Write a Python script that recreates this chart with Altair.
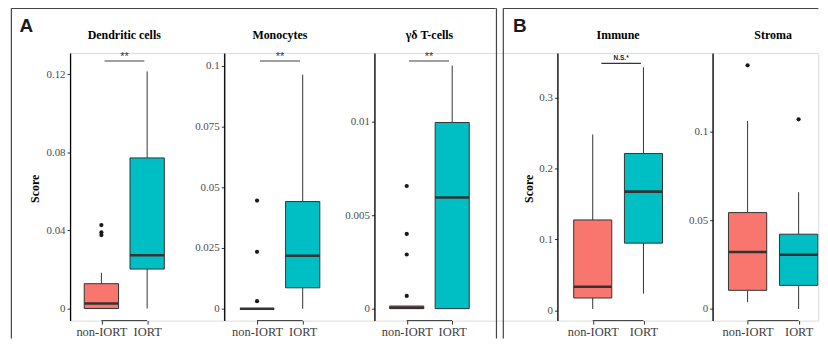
import altair as alt
import pandas as pd

# ---------------- data ----------------
panels = ["Dendritic cells", "Monocytes", "γδ T-cells", "Immune", "Stroma"]
groups = ["non-IORT", "IORT"]
fills = ["#F8766D", "#00BFC4"]

# per panel: [non-IORT, IORT]
whisker_lo = [[0.0, 0.0], [0.0, 0.0], [0.0, 0.0], [0.0018, 0.0234], [0.0038, 0.0]]
box_q1 = [[0.0, 0.0202], [0.0, 0.0086], [0.0, 0.0], [0.0173, 0.0947], [0.0105, 0.0133]]
box_median = [[0.0026, 0.0273], [0.0, 0.0218], [0.00005, 0.00595], [0.0332, 0.1674], [0.0321, 0.0306]]
box_q3 = [[0.0127, 0.0771], [0.0, 0.0441], [0.00014, 0.00997], [0.1274, 0.2212], [0.0544, 0.0422]]
whisker_hi = [[0.0183, 0.1214], [0.0, 0.0963], [0.00014, 0.01302], [0.248, 0.343], [0.1062, 0.0659]]

outlier_panel = [0, 0, 0, 1, 1, 1, 2, 2, 2, 2, 4, 4]
outlier_group = [0, 0, 0, 0, 0, 0, 0, 0, 0, 0, 0, 1]
outlier_value = [0.0427, 0.0390, 0.0376, 0.0031, 0.0234, 0.0445,
                 0.00068, 0.0029, 0.0040, 0.00657, 0.1376, 0.1071]

y_ticks = [[0, 0.04, 0.08, 0.12], [0, 0.025, 0.05, 0.075, 0.1], [0, 0.005, 0.01],
           [0, 0.1, 0.2, 0.3], [0, 0.05, 0.1]]
y_domains = [[-0.0062, 0.1308], [-0.0049, 0.1052], [-0.00064, 0.01369],
             [-0.0146, 0.3629], [-0.0066, 0.1445]]

sig_labels = ["**", "**", "**", "N.S.*"]
sig_x1 = [1.07, 1.06, 1.05, 1.17]
sig_x2 = [1.94, 1.94, 1.93, 1.95]

# ---------------- layout (page pixels) ----------------
axis_x = [69, 223.3, 374.3, 557.7, 713.3]
centers = [(100.5, 146.5), (256.3, 302.2), (406.8, 452.5), (593.2, 644.2), (748.5, 799.8)]
right_end = 819.5
view_top = 54
H = 269
BOX_HALF = 0.375

SERIF = "Liberation Serif, Times New Roman, Times, serif"
SANS = "Liberation Sans, Arial, Helvetica, sans-serif"


def make_panel(i):
    L = axis_x[i]
    R = axis_x[i + 1] if i < 4 else right_end
    W = R - L
    c1, c2 = centers[i]
    d = c2 - c1
    a = 1 - (c1 - L) / d
    b = a + W / d
    xscale = alt.Scale(domain=[a, b], nice=False, zero=False)
    yscale = alt.Scale(domain=y_domains[i], nice=False, zero=False)

    xaxis = alt.Axis(values=[1, 2],
                     labelExpr=f"datum.value == 1 ? '{groups[0]}' : '{groups[1]}'",
                     domain=False, grid=False, ticks=True, tickSize=3.5,
                     tickColor="#333333", tickWidth=1, labelFont=SERIF,
                     labelFontSize=12.5, labelColor="#3D3D3D", labelPadding=1,
                     labelOverlap=False, labelFlush=False, title=None)
    yargs = dict(values=y_ticks[i], labelExpr="'' + datum.value",
                 domainColor="black", domainWidth=1.3,
                 tickColor="#333333", tickSize=3, tickWidth=1, labelFont=SERIF,
                 labelFontSize=11, labelColor="#4D4D4D", labelPadding=2,
                 labelOverlap=False, labelFlush=False, grid=False)
    if i in (0, 3):
        yargs.update(title="Score", titleFont=SERIF, titleFontSize=12,
                     titleFontWeight="bold", titleColor="black",
                     titleX=(-36 if i == 0 else -29.5), titleY=136,
                     titleAngle=270, titleAlign="center", titleBaseline="middle")
    else:
        yargs.update(title=None)
    yaxis = alt.Axis(**yargs)

    X = lambda f: alt.X(f"{f}:Q", scale=xscale, axis=xaxis)
    X2 = lambda f: alt.X2(f"{f}:Q")
    Y = lambda f: alt.Y(f"{f}:Q", scale=yscale, axis=yaxis)
    Y2 = lambda f: alt.Y2(f"{f}:Q")

    box = pd.DataFrame({
        "group": groups,
        "pos": [1.0, 2.0],
        "lo": whisker_lo[i], "q1": box_q1[i], "med": box_median[i],
        "q3": box_q3[i], "hi": whisker_hi[i],
    })
    box["left"] = box["pos"] - BOX_HALF
    box["right"] = box["pos"] + BOX_HALF

    color = alt.Color("group:N", scale=alt.Scale(domain=groups, range=fills), legend=None)

    upper = alt.Chart(box).mark_rule(color="#333333", strokeWidth=1).encode(
        x=X("pos"), y=Y("q3"), y2=Y2("hi"))
    lower = alt.Chart(box).mark_rule(color="#333333", strokeWidth=1).encode(
        x=X("pos"), y=Y("lo"), y2=Y2("q1"))
    rect = alt.Chart(box).mark_rect(stroke="#333333", strokeWidth=1).encode(
        x=X("left"), x2=X2("right"), y=Y("q1"), y2=Y2("q3"), color=color)
    med = alt.Chart(box).mark_rule(color="#333333", strokeWidth=2.6).encode(
        x=X("left"), x2=X2("right"), y=Y("med"))

    out = pd.DataFrame({
        "pos": [float(g + 1) for p, g in zip(outlier_panel, outlier_group) if p == i],
        "v": [v for p, v in zip(outlier_panel, outlier_value) if p == i],
    })
    layers = [upper, lower, rect, med]
    if len(out):
        layers.append(alt.Chart(out).mark_circle(size=18, color="#1A1A1A", opacity=1).encode(
            x=X("pos"), y=Y("v")))

    # x-axis capped line between the two categories
    cap = pd.DataFrame({"x1": [1.0], "x2": [2.0]})
    layers.append(alt.Chart(cap).mark_rule(color="#333333", strokeWidth=1).encode(
        x=X("x1"), x2=X2("x2"), y=alt.value(H)))

    # panel title
    tdf = pd.DataFrame({"tx": [1.5], "label": [panels[i]]})
    layers.append(alt.Chart(tdf).mark_text(font=SERIF, fontSize=12, fontWeight="bold",
                                           color="black", baseline="middle").encode(
        x=X("tx"), y=alt.value(-18), text="label:N"))

    # significance bracket
    if i < 4:
        sdf = pd.DataFrame({"x1": [sig_x1[i]], "x2": [sig_x2[i]],
                            "xm": [(sig_x1[i] + sig_x2[i]) / 2], "label": [sig_labels[i]]})
        if i < 3:
            layers.append(alt.Chart(sdf).mark_rule(color="#7F7F7F", strokeWidth=1.4).encode(
                x=X("x1"), x2=X2("x2"), y=alt.value(8)))
            layers.append(alt.Chart(sdf).mark_text(font=SANS, fontSize=11, color="#333333",
                                                   baseline="alphabetic").encode(
                x=X("xm"), y=alt.value(7), text="label:N"))
        else:
            layers.append(alt.Chart(sdf).mark_rule(color="black", strokeWidth=1).encode(
                x=X("x1"), x2=X2("x2"), y=alt.value(10.3)))
            layers.append(alt.Chart(sdf).mark_text(font=SANS, fontSize=6.5, fontWeight="bold",
                                                   color="#222222", baseline="alphabetic").encode(
                x=X("xm"), y=alt.value(6.7), text="label:N"))

    one = pd.DataFrame({"a": [0]})
    fc = "#444444"
    fw = 1.2
    ft = 9 - view_top
    fb = 341 - view_top
    if i == 0:
        fl = 10 - L
        layers += [
            alt.Chart(one).mark_rule(color=fc, strokeWidth=fw).encode(
                x=alt.value(fl), y=alt.value(ft), y2=alt.value(fb)),
            alt.Chart(one).mark_rule(color=fc, strokeWidth=fw).encode(
                x=alt.value(fl), x2=alt.value(497 - L), y=alt.value(ft)),
            alt.Chart(pd.DataFrame({"t": ["A"]})).mark_text(
                font=SANS, fontSize=19, fontWeight="bold", color="#1A1A1A",
                align="center", baseline="alphabetic").encode(
                x=alt.value(25 - L), y=alt.value(33 - view_top), text="t:N"),
        ]
    if i == 2:
        layers.append(alt.Chart(one).mark_rule(color=fc, strokeWidth=fw).encode(
            x=alt.value(497 - L), y=alt.value(ft), y2=alt.value(fb)))
    if i == 3:
        fl = 503.3 - L
        layers += [
            alt.Chart(one).mark_rule(color=fc, strokeWidth=fw).encode(
                x=alt.value(fl), y=alt.value(ft), y2=alt.value(fb)),
            alt.Chart(one).mark_rule(color=fc, strokeWidth=fw).encode(
                x=alt.value(fl), x2=alt.value(820 - L), y=alt.value(ft)),
            alt.Chart(pd.DataFrame({"t": ["B"]})).mark_text(
                font=SANS, fontSize=19, fontWeight="bold", color="#1A1A1A",
                align="center", baseline="alphabetic").encode(
                x=alt.value(520 - L), y=alt.value(33 - view_top), text="t:N"),
        ]

    return alt.layer(*layers).properties(width=W, height=H)


chart = alt.hconcat(*[make_panel(i) for i in range(5)], spacing=0, bounds="flush").properties(
    padding={"left": 1.4, "top": -2.6, "right": 0, "bottom": 0}
).configure_view(stroke="transparent", strokeWidth=0).configure(background="white")

chart.save("out.html", embed_options={"renderer": "svg", "actions": False})
